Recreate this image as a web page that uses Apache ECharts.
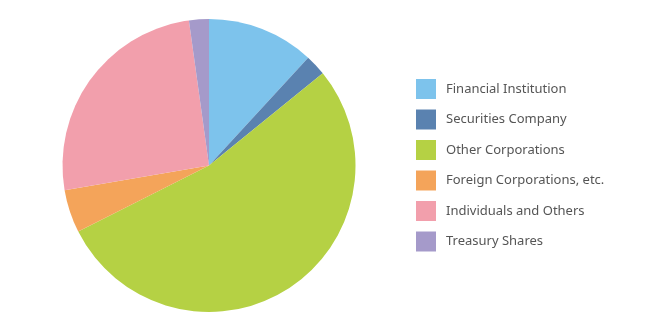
<!DOCTYPE html>
<html><head><meta charset="utf-8">
<script src="https://cdn.jsdelivr.net/npm/echarts@6/dist/echarts.min.js"></script>
<style>html,body{margin:0;padding:0;background:#fff}#c{width:650px;height:326px}</style>
</head><body><div id="c"></div>
<script>
const categories = ["Financial Institution","Securities Company","Other Corporations","Foreign Corporations, etc.","Individuals and Others","Treasury Shares"];
const shares = [11.83, 2.32, 53.40, 4.75, 25.50, 2.19];
const colors = ["#7DC3EC","#5A82B0","#B5D144","#F4A45A","#F29FAC","#A59ACA"];
const chart = echarts.init(document.getElementById('c'));
chart.setOption({
  animation:false,
  color: colors,
  legend:{orient:'vertical',left:416,top:79,padding:0,itemWidth:20,itemHeight:20,itemGap:10.5,
    icon:'rect',
    textStyle:{fontFamily:'Noto Sans',fontSize:13,color:'#555',padding:[0,0,0,5]},
    data:categories},
  series:[{type:'pie',center:[209,165.5],radius:146.5,startAngle:90,clockwise:true,
    label:{show:false},labelLine:{show:false},
    itemStyle:{borderWidth:0},
    emphasis:{disabled:true},
    data:categories.map((n,i)=>({name:n,value:shares[i]}))}]
});
</script></body></html>
